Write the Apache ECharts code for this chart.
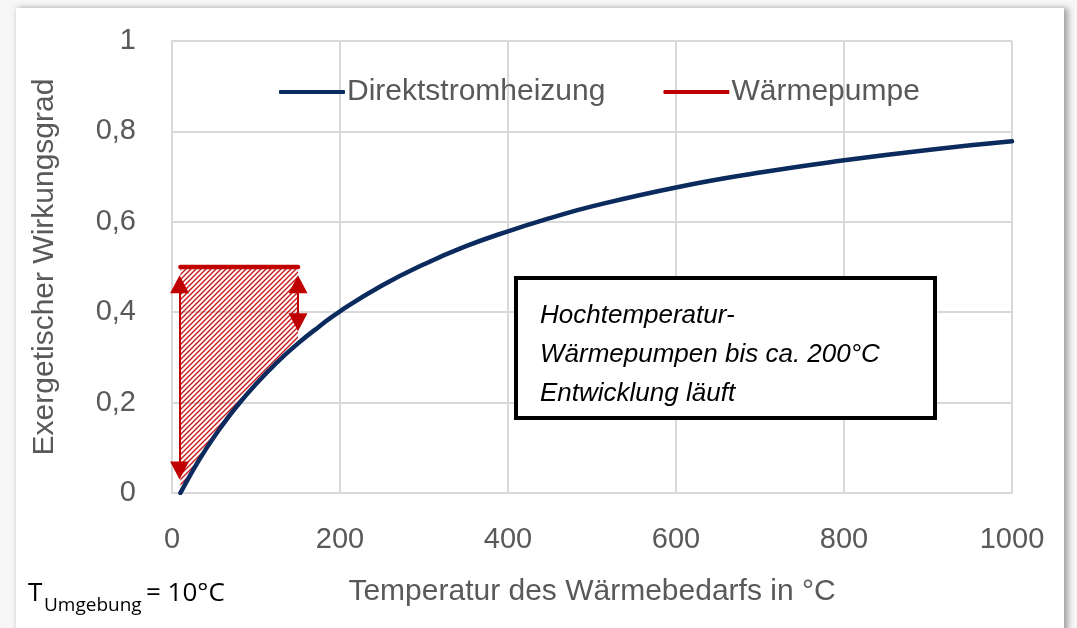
<!DOCTYPE html>
<html>
<head>
<meta charset="utf-8">
<script src="https://cdn.jsdelivr.net/npm/echarts@6/dist/echarts.min.js"></script>
<style>
  html, body { margin: 0; padding: 0; background: #f6f6f6; overflow: hidden; }
  #card { position: absolute; left: 16px; top: 8px; width: 1048px; height: 660px; background: #fff;
          box-shadow: 3px 1px 6px 1px rgba(0,0,0,0.35); }
  #main { position: absolute; left: 0; top: 0; width: 1077px; height: 628px; }
</style>
</head>
<body>
<div id="card"></div>
<div id="main"></div>
<script>
// Temperatur des Wärmebedarfs (°C) und exergetischer Wirkungsgrad
const temps = [10, 20, 30, 40, 50, 60, 75, 100, 125, 150, 175, 200, 250, 300, 350, 400, 450, 500, 600, 700, 800, 900, 1000];
const direkt = [0, 0.034, 0.066, 0.096, 0.124, 0.150, 0.187, 0.241, 0.289, 0.331, 0.368, 0.402, 0.459, 0.506, 0.546, 0.579, 0.608, 0.634, 0.676, 0.709, 0.736, 0.759, 0.778];

// Wärmepumpe: Niveau 0,5 zwischen 10 und 150 °C
const wpTemps = [10, 150];
const wpLevel = 0.5;

// Pfeile (Anfang/Ende)
const arrowLeftX = 9;
const arrowLeft = [0.462, 0.05];
const arrowRightX = 150;
const arrowRight = [0.462, 0.378];

const xTicks = [0, 200, 400, 600, 800, 1000];
const yTicks = [0, 0.2, 0.4, 0.6, 0.8, 1];

const seriesNames = ['Direktstromheizung', 'Wärmepumpe'];

const navy = '#0b2a5e';
const red = '#c00000';
const grey = '#595959';
const font = "'Liberation Sans', Arial, sans-serif";

// Schraffur-Muster
function hatchPattern() {
    const c = document.createElement('canvas');
    c.width = 5; c.height = 5;
    const ctx = c.getContext('2d');
    ctx.strokeStyle = 'rgba(192,0,0,0.9)';
    ctx.lineWidth = 1.4;
    ctx.beginPath();
    ctx.moveTo(0, 5); ctx.lineTo(5, 0);
    ctx.moveTo(-1, 1); ctx.lineTo(1, -1);
    ctx.moveTo(4, 6); ctx.lineTo(6, 4);
    ctx.stroke();
    return c;
}

const curveData = temps.map((t, i) => [t, direkt[i]]);
const hatchData = curveData.filter(p => p[0] <= 150);
const wpData = wpTemps.map(t => [t, wpLevel]);

const chart = echarts.init(document.getElementById('main'), null, { renderer: 'canvas' });

const option = {
    backgroundColor: 'transparent',
    animation: false,
    textStyle: { fontFamily: font },
    grid: { left: 172, right: 65, top: 41, bottom: 135 },
    legend: {
        data: seriesNames.map(n => ({ name: n, icon: 'roundRect' })),
        left: 274, top: 72,
        itemWidth: 66, itemHeight: 4,
        itemGap: 58,
        textStyle: { fontSize: 30, color: grey, padding: [0, 0, 0, -3] }
    },
    xAxis: {
        type: 'value', min: xTicks[0], max: xTicks[xTicks.length - 1], interval: 200,
        name: 'Temperatur des Wärmebedarfs in °C',
        nameLocation: 'middle', nameGap: 84,
        nameTextStyle: { fontSize: 30, color: grey },
        axisLine: { show: true, lineStyle: { color: '#d9d9d9', width: 2 } },
        axisTick: { show: false },
        axisLabel: { fontSize: 29, color: grey, margin: 32, formatter: v => String(v) },
        splitLine: { lineStyle: { color: '#d9d9d9', width: 2 } }
    },
    yAxis: {
        type: 'value', min: yTicks[0], max: yTicks[yTicks.length - 1], interval: 0.2,
        name: 'Exergetischer Wirkungsgrad',
        nameLocation: 'middle', nameGap: 112,
        nameTextStyle: { fontSize: 30, color: grey },
        axisLine: { show: true, lineStyle: { color: '#d9d9d9', width: 2 } },
        axisTick: { show: false },
        axisLabel: {
            fontSize: 29, color: grey, margin: 36,
            formatter: v => (v === 0 || v === 1) ? String(v) : v.toFixed(1).replace('.', ',')
        },
        splitLine: { lineStyle: { color: '#d9d9d9', width: 2 } }
    },
    series: [
        {
            name: 'hatch',
            type: 'line',
            data: hatchData,
            smooth: true,
            showSymbol: false,
            lineStyle: { width: 0, opacity: 0 },
            areaStyle: { origin: wpLevel, color: { image: hatchPattern(), repeat: 'repeat' }, opacity: 1 },
            z: 1,
            silent: true
        },
        {
            name: seriesNames[0],
            type: 'line',
            data: curveData,
            smooth: true,
            showSymbol: false,
            lineStyle: { color: navy, width: 4.5, cap: 'round' },
            itemStyle: { color: navy },
            z: 5
        },
        {
            name: seriesNames[1],
            type: 'line',
            data: wpData,
            showSymbol: false,
            lineStyle: { color: red, width: 4.5, cap: 'round' },
            itemStyle: { color: red },
            z: 4,
            markLine: {
                silent: true,
                animation: false,
                symbol: ['triangle', 'triangle'],
                symbolSize: [19, 18],
                label: { show: false },
                lineStyle: { color: red, width: 2, type: 'solid' },
                emphasis: { disabled: true },
                data: [
                    [{ coord: [arrowLeftX, arrowLeft[0]] }, { coord: [arrowLeftX, arrowLeft[1]] }],
                    [{ coord: [arrowRightX, arrowRight[0]] }, { coord: [arrowRightX, arrowRight[1]] }]
                ]
            }
        }
    ],
    graphic: [
        {
            type: 'rect', left: 514, top: 276,
            shape: { width: 419, height: 140 },
            style: { fill: '#fff', stroke: '#000', lineWidth: 4 },
            z: 10
        },
        {
            type: 'text', left: 540, top: 296, z: 11,
            style: {
                text: 'Hochtemperatur-\nWärmepumpen bis ca. 200°C\nEntwicklung läuft',
                font: 'italic 26px "Liberation Sans", Arial, sans-serif',
                lineHeight: 39, fill: '#000'
            }
        },
        {
            type: 'text', left: 28, top: 581, z: 11,
            style: { text: 'T', font: '26px "Open Sans", sans-serif', fill: '#000' }
        },
        {
            type: 'text', left: 44, top: 596, z: 11,
            style: { text: 'Umgebung', font: '19px "Open Sans", sans-serif', fill: '#000' }
        },
        {
            type: 'text', left: 146, top: 581, z: 11,
            style: { text: '= 10°C', font: '26px "Open Sans", sans-serif', fill: '#000' }
        }
    ]
};

chart.setOption(option);
</script>
</body>
</html>
